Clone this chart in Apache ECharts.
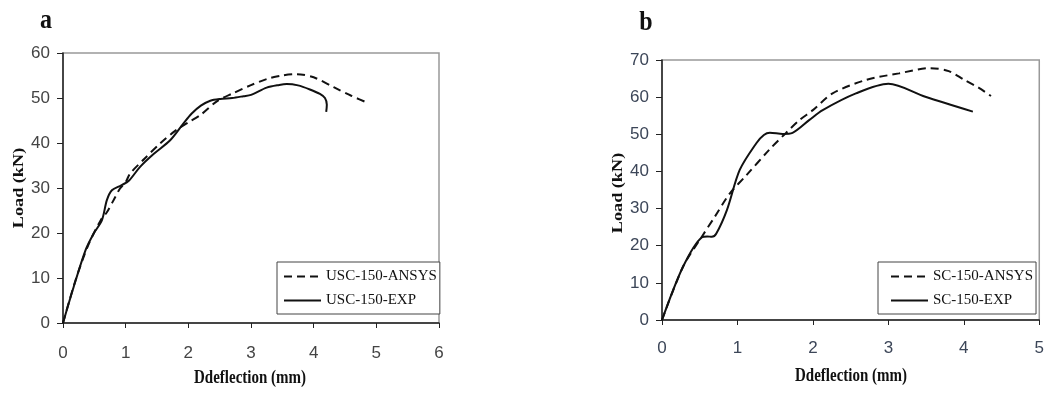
<!DOCTYPE html>
<html>
<head>
<meta charset="utf-8">
<script src="https://cdn.jsdelivr.net/npm/echarts@6/dist/echarts.min.js"></script>
<style>
html,body{margin:0;padding:0;background:#fff;}
#chart{width:1047px;height:394px;}
</style>
</head>
<body>
<div id="chart"></div>
<script>
// ---- Data ----
const panelLabels = ['a', 'b'];
const xTitle = 'Ddeflection (mm)';
const yTitle = 'Load (kN)';

const uscAnsysX = [0, 0.2, 0.4, 0.6, 0.7, 0.83, 0.91, 1.0, 1.07, 1.3, 1.55, 1.8, 2.0, 2.2, 2.46, 2.72, 2.99, 3.25, 3.5, 3.73, 4.0, 4.32, 4.6, 4.88];
const uscAnsysY = [0, 9.5, 17.2, 22.8, 24.6, 27.9, 29.9, 31.3, 33.2, 36.5, 39.9, 42.8, 44.6, 46.3, 49.3, 51.1, 52.8, 54.2, 55.0, 55.3, 54.6, 52.4, 50.5, 48.8];
const uscExpX = [0, 0.17, 0.36, 0.49, 0.62, 0.7, 0.78, 0.93, 1.05, 1.23, 1.45, 1.71, 1.92, 2.05, 2.2, 2.35, 2.51, 2.7, 2.88, 3.0, 3.25, 3.45, 3.57, 3.75, 3.94, 4.1, 4.18, 4.21, 4.2];
const uscExpY = [0, 8.0, 16.2, 19.9, 22.8, 27.3, 29.5, 30.6, 31.6, 34.7, 37.6, 40.6, 44.3, 46.5, 48.3, 49.4, 49.8, 50.0, 50.4, 50.7, 52.3, 52.9, 53.1, 52.8, 51.9, 50.9, 50.0, 48.5, 46.9];

const scAnsysX = [0, 0.28, 0.53, 0.7, 0.9, 1.12, 1.42, 1.64, 1.82, 2.0, 2.26, 2.7, 3.14, 3.55, 3.8, 4.01, 4.2, 4.36];
const scAnsysY = [0, 14.4, 22.5, 27.8, 34.1, 39.0, 45.8, 50.3, 53.8, 56.5, 61.0, 64.6, 66.4, 67.8, 67.0, 64.6, 62.5, 60.3];
const scExpX = [0, 0.28, 0.53, 0.6, 0.66, 0.72, 0.86, 1.03, 1.25, 1.35, 1.43, 1.6, 1.73, 1.95, 2.13, 2.57, 3.0, 3.49, 4.12];
const scExpY = [0, 14.4, 22.3, 22.5, 22.4, 23.3, 29.6, 40.4, 47.6, 49.8, 50.4, 50.1, 50.4, 53.8, 56.5, 61.0, 63.6, 60.1, 56.1];

const seriesNames = ['USC-150-ANSYS', 'USC-150-EXP', 'SC-150-ANSYS', 'SC-150-EXP'];
const xMaxA = 6, yMaxA = 60, xMaxB = 5, yMaxB = 70;

// ---- Build ----
const zip = (xs, ys) => xs.map((x, i) => [x, ys[i]]);
const serif = '"Liberation Serif", "DejaVu Serif", serif';
const narrow = '"Liberation Sans Narrow", "Liberation Sans", sans-serif';

function makeX(idx, max, margin, color) {
  return {
    gridIndex: idx, type: 'value', min: 0, max: max, interval: 1,
    axisLine: {show: true, onZero: false, lineStyle: {color: '#222', width: 1.5}},
    axisTick: {show: true, inside: false, length: 5, lineStyle: {color: '#222'}},
    axisLabel: {margin: margin, fontFamily: narrow, fontSize: 17, color: color},
    splitLine: {show: false}
  };
}
function makeY(idx, max, color) {
  return {
    gridIndex: idx, type: 'value', min: 0, max: max, interval: 10,
    axisLine: {show: true, onZero: false, lineStyle: {color: '#222', width: 1.5}},
    axisTick: {show: true, inside: false, length: 6, lineStyle: {color: '#222'}},
    axisLabel: {margin: 13, fontFamily: narrow, fontSize: 17, color: color},
    splitLine: {show: false}
  };
}
function line(name, data, idx, dashed) {
  return {
    name: name, type: 'line', xAxisIndex: idx, yAxisIndex: idx,
    data: data, symbol: 'none', smooth: 0.3,
    lineStyle: {color: '#111', width: 2, type: dashed ? [8, 5] : 'solid'},
    itemStyle: {color: '#111'},
    emphasis: {disabled: true}, animation: false
  };
}
function legendBox(names, left, top, padLeft) {
  return {
    data: names, orient: 'vertical', left: left, top: top,
    itemWidth: 37, itemHeight: 10, itemGap: 9,
    padding: [7, 3, 6, padLeft],
    borderColor: '#444', borderWidth: 1, backgroundColor: '#fff',
    itemStyle: {opacity: 0},
    textStyle: {fontFamily: serif, fontSize: 15, color: '#111'},
    selectedMode: false
  };
}
function text(str, x, y, size, rot, sx, sy) {
  return {
    type: 'text', x: x, y: y, rotation: rot || 0, scaleX: sx || 1, scaleY: sy || 1,
    style: {text: str, x: 0, y: 0, font: 'bold ' + size + 'px ' + serif,
            fill: '#111', align: 'center', verticalAlign: 'middle'}
  };
}

const chart = echarts.init(document.getElementById('chart'), null, {renderer: 'canvas'});
chart.setOption({
  backgroundColor: '#fff',
  animation: false,
  grid: [
    {left: 63, top: 53, width: 376, height: 270, show: true, borderColor: '#999', borderWidth: 1.5, backgroundColor: 'transparent'},
    {left: 662, top: 60, width: 380, height: 260, show: true, borderColor: '#999', borderWidth: 1.5, backgroundColor: 'transparent'}
  ],
  xAxis: [makeX(0, xMaxA, 22, '#444'), makeX(1, xMaxB, 20, '#3c4658')],
  yAxis: [makeY(0, yMaxA, '#444'), makeY(1, yMaxB, '#3c4658')],
  legend: [
    legendBox([seriesNames[0], seriesNames[1]], 277, 262, 6),
    legendBox([seriesNames[2], seriesNames[3]], 878, 262, 12)
  ],
  series: [
    line(seriesNames[0], zip(uscAnsysX, uscAnsysY), 0, true),
    line(seriesNames[1], zip(uscExpX, uscExpY), 0, false),
    line(seriesNames[2], zip(scAnsysX, scAnsysY), 1, true),
    line(seriesNames[3], zip(scExpX, scExpY), 1, false)
  ],
  graphic: [
    text(panelLabels[0], 46, 21, 24, 0, 1, 1.15),
    text(panelLabels[1], 646, 23, 24, 0, 1, 1.15),
    text(yTitle, 19, 188, 14, Math.PI / 2, 1.3, 1),
    text(yTitle, 618, 193, 14, Math.PI / 2, 1.3, 1),
    text(xTitle, 250, 378, 15, 0, 1, 1.25),
    text(xTitle, 851, 376, 15, 0, 1, 1.25)
  ]
});
</script>
</body>
</html>
